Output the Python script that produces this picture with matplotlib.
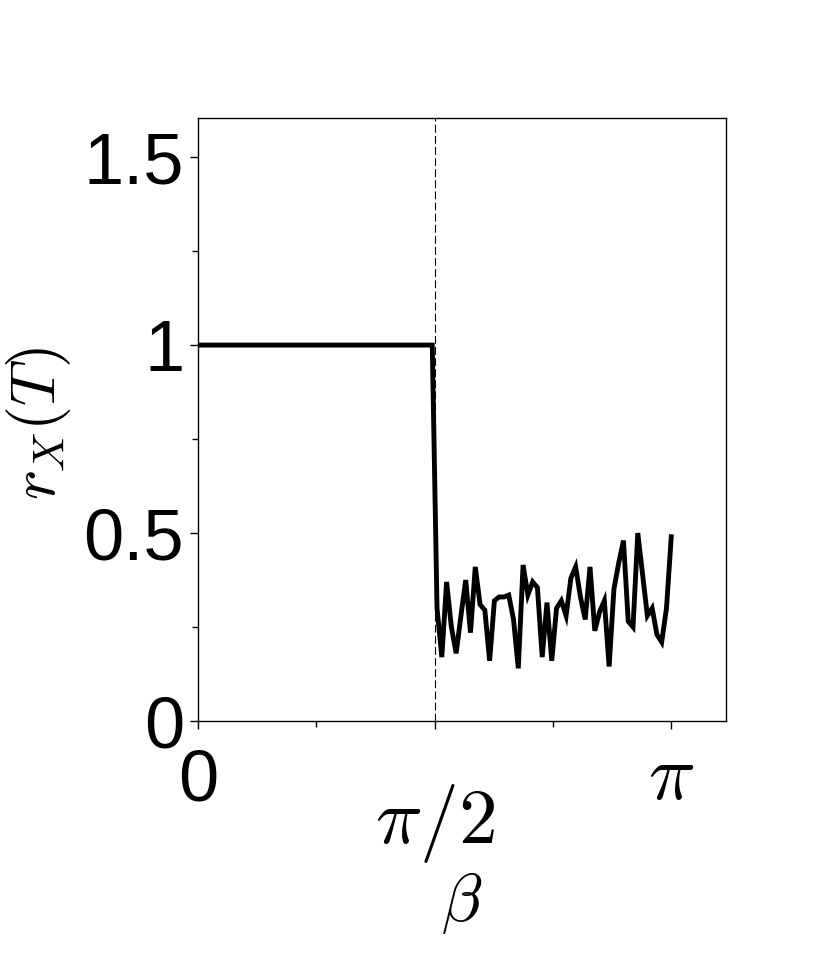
import matplotlib

matplotlib.use("Agg")
import matplotlib.pyplot as plt
import numpy as np

plt.rcParams.update(
    {
        "font.family": ["Liberation Sans", "DejaVu Sans"],
        "mathtext.fontset": "cm",
        "axes.linewidth": 1.0,
        "xtick.direction": "out",
        "ytick.direction": "out",
    }
)

# beta sampled on 100 points across [0, pi]
beta = np.linspace(0, np.pi, 100)
r_low = [1.0] * 50
r_high = [
    0.30, 0.17, 0.37, 0.25, 0.18, 0.28, 0.375, 0.235, 0.41, 0.31,
    0.295, 0.16, 0.32, 0.33, 0.33, 0.335, 0.27, 0.14, 0.415, 0.335,
    0.37, 0.355, 0.17, 0.315, 0.16, 0.30, 0.32, 0.28, 0.38, 0.41,
    0.33, 0.27, 0.41, 0.24, 0.29, 0.32, 0.145, 0.35, 0.42, 0.48,
    0.265, 0.25, 0.50, 0.39, 0.28, 0.30, 0.23, 0.21, 0.30, 0.49,
]
r_x = np.array(r_low + r_high)

xticks = [0, np.pi / 2, np.pi]
xticklabels = ["0", r"$\pi/2$", r"$\pi$"]
yticks = [0, 0.5, 1, 1.5]
yticklabels = ["0", "0.5", "1", "1.5"]

fig = plt.figure(figsize=(8.3, 9.57), dpi=100)
ax = fig.add_axes([0.2386, 0.2466, 0.6361, 0.6301])

ax.plot(beta, r_x, color="black", lw=3.5, solid_joinstyle="miter", zorder=3)
ax.axvline(np.pi / 2, color="black", lw=0.8, linestyle=(0, (7, 3)), zorder=2)

ax.set_xlim(0, 3.505)
ax.set_ylim(0, 1.604)

ax.set_yticks(yticks)
ax.set_yticklabels(yticklabels, fontsize=52)
ax.set_yticks([0.25, 0.75, 1.25], minor=True)
ax.set_xticks(xticks)
ax.set_xticklabels(xticklabels)
ax.set_xticks([np.pi / 4, 3 * np.pi / 4], minor=True)

ax.tick_params(axis="both", which="major", length=6, width=1.0)
ax.tick_params(axis="both", which="minor", length=4, width=1.0)
ax.tick_params(axis="y", which="major", pad=4)

xt = ax.xaxis.get_major_ticks()
xt[0].label1.set_fontsize(52)
xt[1].label1.set_fontsize(56)
xt[2].label1.set_fontsize(56)
xt[0].set_pad(14)
xt[1].set_pad(38)
xt[2].set_pad(9)

ax.set_xlabel(r"$\beta$", fontsize=48, labelpad=4)
ax.set_ylabel(r"$r_X(T)$", fontsize=46)
ax.yaxis.set_label_coords(-0.237, 0.4925)

fig.savefig("out.png", dpi=100, facecolor="white")
